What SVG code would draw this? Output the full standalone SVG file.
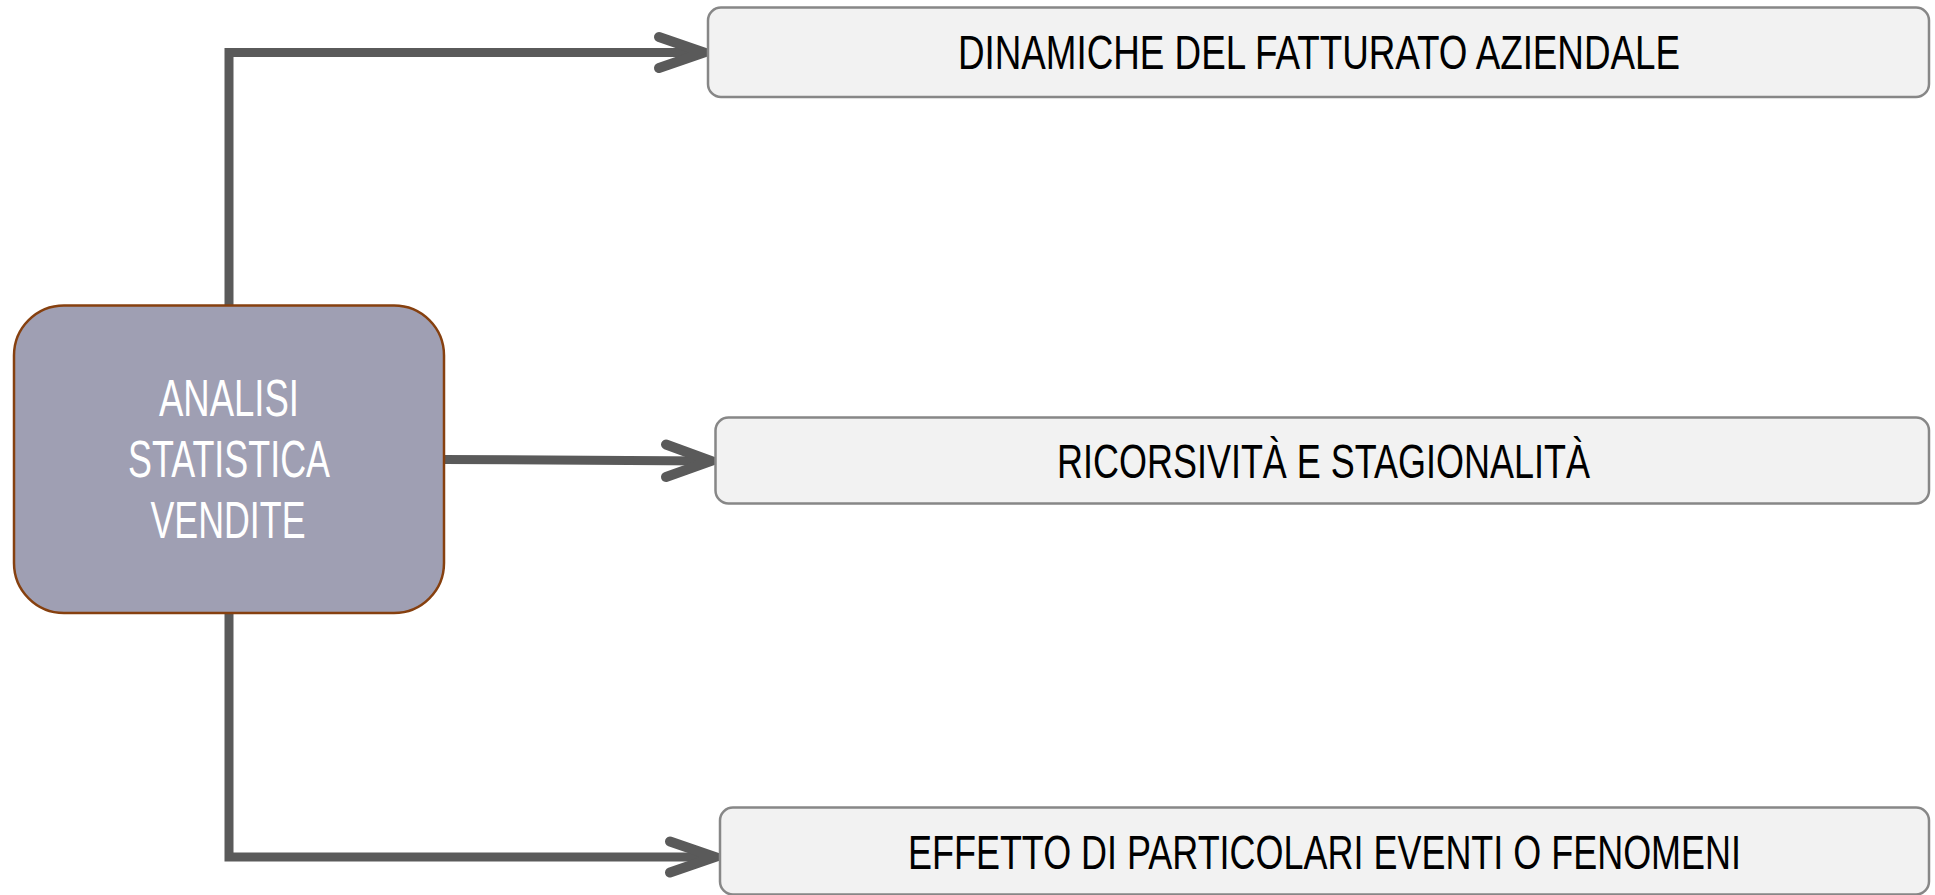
<svg xmlns="http://www.w3.org/2000/svg" width="1935" height="895" viewBox="0 0 1935 895">
<style>
.conn{fill:none;stroke:#5a5a5a;stroke-width:9;stroke-linejoin:miter;stroke-linecap:butt}
.head{fill:none;stroke:#5a5a5a;stroke-width:10;stroke-linecap:round;stroke-linejoin:miter}
.box{fill:#f2f2f2;stroke:#878787;stroke-width:2.5}
.main{fill:#9f9fb3;stroke:#86400f;stroke-width:2.5}
.lbl{font-family:"Liberation Sans","DejaVu Sans",sans-serif;font-size:48px;fill:#000}
.mlbl{font-family:"Liberation Sans","DejaVu Sans",sans-serif;font-size:51px;fill:#fff}
</style>
<rect width="1935" height="895" fill="#fff"/>
<g id="connectors">
<path class="conn" d="M229,306 V52.5 H702"/>
<path class="head" d="M659,37 L704,52.5 L659,68"/>
<path class="conn" d="M444,459.5 L709,461"/>
<path class="head" d="M666,444.5 L711,461 L666,477"/>
<path class="conn" d="M229,613 V857 H713"/>
<path class="head" d="M670,841.5 L715,857 L670,872.5"/>
</g>
<g id="node-main">
<rect class="main" x="14" y="305.5" width="430" height="307.5" rx="50" ry="50"/>
<text class="mlbl" x="229" y="416" text-anchor="middle" textLength="140" lengthAdjust="spacingAndGlyphs">ANALISI</text>
<text class="mlbl" x="229" y="477" text-anchor="middle" textLength="202" lengthAdjust="spacingAndGlyphs">STATISTICA</text>
<text class="mlbl" x="228" y="538" text-anchor="middle" textLength="155" lengthAdjust="spacingAndGlyphs">VENDITE</text>
</g>
<g id="node-dinamiche">
<rect class="box" x="708" y="7.5" width="1221" height="89.5" rx="13" ry="13"/>
<text class="lbl" x="958" y="69" textLength="722" lengthAdjust="spacingAndGlyphs">DINAMICHE DEL FATTURATO AZIENDALE</text>
</g>
<g id="node-ricorsivita">
<rect class="box" x="715.5" y="417.5" width="1213.5" height="86" rx="13" ry="13"/>
<text class="lbl" x="1057" y="478" textLength="533" lengthAdjust="spacingAndGlyphs">RICORSIVITÀ E STAGIONALITÀ</text>
</g>
<g id="node-effetto">
<rect class="box" x="720" y="807.5" width="1209" height="87" rx="13" ry="13"/>
<text class="lbl" x="908" y="869" textLength="833" lengthAdjust="spacingAndGlyphs">EFFETTO DI PARTICOLARI EVENTI O FENOMENI</text>
</g>
</svg>
